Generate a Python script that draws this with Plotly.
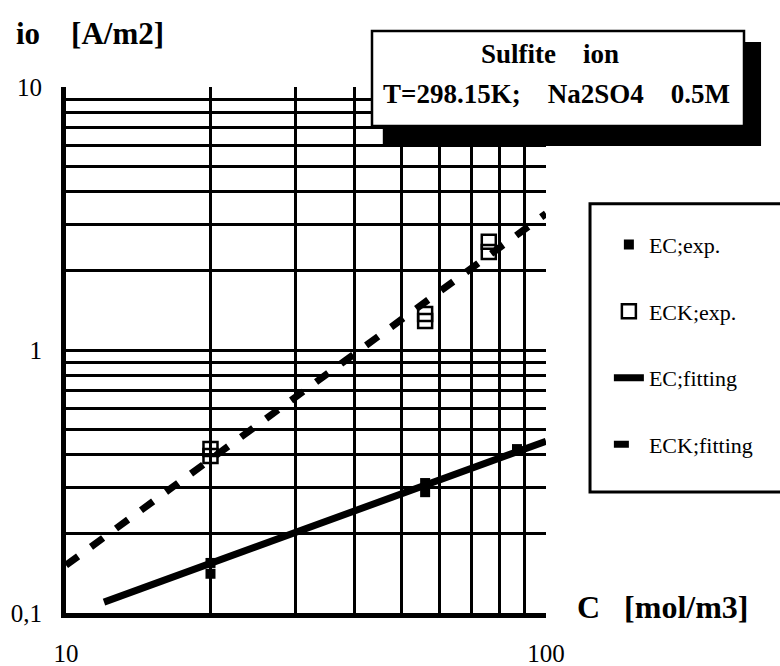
import plotly.graph_objects as go

# ---- data ----
ec_exp_c = [20, 20, 56, 56, 87]
ec_exp_io = [0.155, 0.141, 0.312, 0.288, 0.42]

eck_exp_c = [20, 20, 56, 56, 76, 76]
eck_exp_io = [0.42, 0.395, 1.37, 1.29, 2.58, 2.36]

ec_fit_c = [12, 100]
ec_fit_io = [0.11, 0.45]

eck_fit_c = [10, 100]
eck_fit_io = [0.152, 3.3]

x_tickvals = [10, 20, 30, 40, 50, 60, 70, 80, 90, 100]
x_ticktext = ["10", "", "", "", "", "", "", "", "", "100"]
y_tickvals = [0.1, 0.2, 0.3, 0.4, 0.5, 0.6, 0.7, 0.8, 0.9,
              1, 2, 3, 4, 5, 6, 7, 8, 9, 10]
y_ticktext = ["0,1", "", "", "", "", "", "", "", "",
              "1", "", "", "", "", "", "", "", "", "10"]

SP = "&nbsp;"
title_line1 = "Sulfite" + SP * 4 + "ion"
title_line2 = "T=298.15K;" + SP * 4 + "Na2SO4" + SP * 4 + "0.5M"
y_title = "io" + SP * 4 + "[A/m2]"
x_title = "C" + SP * 3 + "[mol/m3]"

SERIF = "Liberation Serif, Times New Roman, serif"

fig = go.Figure()

fig.add_trace(go.Scatter(
    x=ec_exp_c, y=ec_exp_io, mode="markers", name="EC;exp.",
    legendgroup="a",
    marker=dict(symbol="square", size=10, color="black", line=dict(width=0)),
))
fig.add_trace(go.Scatter(
    x=eck_exp_c, y=eck_exp_io, mode="markers", name="ECK;exp.",
    legendgroup="b",
    marker=dict(symbol="square-open", size=14, color="black", line=dict(width=2.5, color="black")),
))
fig.add_trace(go.Scatter(
    x=ec_fit_c, y=ec_fit_io, mode="lines", name="EC;fitting",
    legendgroup="c",
    line=dict(color="black", width=7),
))
fig.add_trace(go.Scatter(
    x=eck_fit_c, y=eck_fit_io, mode="lines", name="ECK;fitting",
    legendgroup="d",
    line=dict(color="black", width=7, dash="15px,16px"),
))

fig.update_xaxes(
    type="log", range=[1, 2], automargin=False,
    tickvals=x_tickvals, ticktext=x_ticktext,
    showgrid=True, gridcolor="black", gridwidth=3,
    showline=True, linecolor="black", linewidth=5,
    ticks="", ticklabelstandoff=14,
    tickfont=dict(family=SERIF, size=25, color="black"),
    zeroline=False,
)
fig.update_yaxes(
    type="log", range=[-1, 1], automargin=False,
    tickvals=y_tickvals, ticktext=y_ticktext,
    showgrid=True, gridcolor="black", gridwidth=3,
    showline=True, linecolor="black", linewidth=5,
    ticks="", ticklabelstandoff=14,
    tickfont=dict(family=SERIF, size=25, color="black"),
    zeroline=False,
)

shapes = [
    # title box shadow
    dict(type="rect", xref="paper", yref="paper", x0=0.660, x1=1.448, y0=0.888, y1=1.0856,
         fillcolor="black", line=dict(width=0), layer="above"),
    # title box
    dict(type="rect", xref="paper", yref="paper", x0=0.6375, x1=1.4125, y0=0.926, y1=1.1065,
         fillcolor="white", line=dict(width=2.5, color="black"), layer="above"),
    # legend box
    dict(type="rect", xref="paper", yref="paper", x0=1.0917, x1=1.50, y0=0.230, y1=0.778,
         fillcolor="rgba(0,0,0,0)", line=dict(width=3, color="black"), layer="above"),
]

annotations = [
    dict(text="<b>" + title_line1 + "</b>", xref="paper", yref="paper", x=1.008, y=1.063,
         showarrow=False, xanchor="center", yanchor="middle",
         font=dict(family=SERIF, size=27, color="black")),
    dict(text="<b>" + title_line2 + "</b>", xref="paper", yref="paper", x=1.021, y=0.987,
         showarrow=False, xanchor="center", yanchor="middle",
         font=dict(family=SERIF, size=27, color="black")),
    dict(text="<b>" + y_title + "</b>", xref="paper", yref="paper", x=-0.108, y=1.101,
         showarrow=False, xanchor="left", yanchor="middle",
         font=dict(family=SERIF, size=31, color="black")),
    dict(text="<b>" + x_title + "</b>", xref="paper", yref="paper", x=1.060, y=0.0114,
         showarrow=False, xanchor="left", yanchor="middle",
         font=dict(family=SERIF, size=32, color="black")),
]

fig.update_layout(
    width=780, height=666,
    margin=dict(l=66, r=234, t=87, b=53),
    paper_bgcolor="white", plot_bgcolor="white",
    shapes=shapes, annotations=annotations,
    showlegend=True,
    legend=dict(
        x=1.131, y=0.740, xanchor="left", yanchor="top",
        bgcolor="rgba(0,0,0,0)", borderwidth=0,
        font=dict(family=SERIF, size=22, color="black"),
        tracegroupgap=35,
    ),
)

fig.write_html("out.html", config={"displayModeBar": False},
               post_script="document.body.style.margin='0px';")
